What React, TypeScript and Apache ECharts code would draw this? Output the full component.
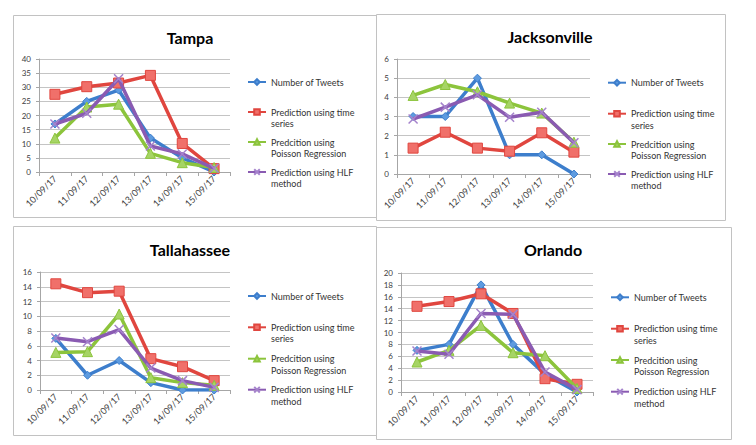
import React, { useEffect, useRef } from "react";
import * as echarts from "echarts";

const categories = ["10/09/17", "11/09/17", "12/09/17", "13/09/17", "14/09/17", "15/09/17"];
const seriesNames = [
  "Number of Tweets",
  "Prediction using time series",
  "Predcition using Poisson Regression",
  "Prediction using HLF method",
];
const legendLabels = [
  "Number of Tweets",
  "Prediction using time\nseries",
  "Predcition using\nPoisson Regression",
  "Prediction using HLF\nmethod",
];

const tampaTweets = [17, 25, 29, 12, 5, 0];
const tampaTimeSeries = [27.5, 30.2, 31.5, 34.2, 10.1, 1.2];
const tampaPoisson = [12, 23, 24, 6.6, 3.3, 1.6];
const tampaHLF = [17, 20.8, 33, 9.2, 6.4, 1.3];

const jaxTweets = [3, 3, 5, 1, 1, 0];
const jaxTimeSeries = [1.35, 2.18, 1.35, 1.19, 2.15, 1.14];
const jaxPoisson = [4.1, 4.67, 4.29, 3.7, 3.18, 1.66];
const jaxHLF = [2.87, 3.49, 4.13, 2.96, 3.22, 1.63];

const tlhTweets = [7, 2, 4, 1, 0, 0];
const tlhTimeSeries = [14.4, 13.2, 13.4, 4.25, 3.16, 1.27];
const tlhPoisson = [5.1, 5.2, 10.3, 1.67, 1.0, 0.63];
const tlhHLF = [7.05, 6.55, 8.2, 2.98, 1.27, 0.36];

const orlTweets = [7, 8, 18, 8, 3, 0];
const orlTimeSeries = [14.4, 15.2, 16.5, 13.2, 2.24, 1.29];
const orlPoisson = [5.04, 7, 11.2, 6.6, 6.1, 0.6];
const orlHLF = [6.9, 6.33, 13.2, 13.05, 3.36, 0.4];

const panels = [
  {
    title: "Tampa",
    data: [tampaTweets, tampaTimeSeries, tampaPoisson, tampaHLF],
    yMax: 40, yInterval: 5,
    grid: { left: 39, top: 59, width: 191, height: 113 },
    titlePos: [190, 37],
    legendX: 247, legendY: [82, 112, 142, 172],
    box: [13.5, 15.5, 363, 202],
  },
  {
    title: "Jacksonville",
    data: [jaxTweets, jaxTimeSeries, jaxPoisson, jaxHLF],
    yMax: 6, yInterval: 1,
    grid: { left: 397, top: 59, width: 193, height: 115 },
    titlePos: [550, 36],
    legendX: 607, legendY: [82.7, 113.7, 144, 174],
    box: [376.5, 14.5, 349, 206],
  },
  {
    title: "Tallahassee",
    data: [tlhTweets, tlhTimeSeries, tlhPoisson, tlhHLF],
    yMax: 16, yInterval: 2,
    grid: { left: 40, top: 272, width: 190, height: 118 },
    titlePos: [190, 249],
    legendX: 247, legendY: [296, 327.3, 358.7, 389.7],
    box: [13.5, 226.5, 363, 209],
  },
  {
    title: "Orlando",
    data: [orlTweets, orlTimeSeries, orlPoisson, orlHLF],
    yMax: 20, yInterval: 2,
    grid: { left: 401, top: 273, width: 192, height: 119 },
    titlePos: [553, 249],
    legendX: 610, legendY: [297.3, 328.7, 360, 391.7],
    box: [376.5, 227.5, 355, 212],
  },
];

const lineColors = ["#3d7ecc", "#e0463f", "#8cc43c", "#8a5bb2"];
const fillColors = ["#5d9be0", "#f0706a", "#a6d465", "#a583cc"];
const symbols = ["diamond", "rect", "triangle", "path://M0,0L10,10M10,0L0,10"];
const symbolSizes = [8, 10, 10, 9];

const FONT = "Lato";
const LH = 11.5;

export default function App() {
  const ref = useRef<HTMLDivElement>(null);
  useEffect(() => {
    if (!ref.current) return;
    const chart = echarts.init(ref.current, undefined, { renderer: "svg" });
    const grids: any[] = [];
    const xAxes: any[] = [];
    const yAxes: any[] = [];
    const series: any[] = [];
    const legends: any[] = [];
    const graphics: any[] = [];

    panels.forEach((p, pi) => {
      grids.push({ ...p.grid });
      xAxes.push({
        type: "category",
        gridIndex: pi,
        data: categories,
        boundaryGap: true,
        axisLine: { lineStyle: { color: "#a6a6a6", width: 1 } },
        axisTick: { show: true, length: 4, lineStyle: { color: "#a6a6a6" } },
        axisLabel: { rotate: 45, interval: 0, margin: 5, fontSize: 9, color: "#404040", fontFamily: FONT },
        splitLine: { show: false },
      });
      yAxes.push({
        type: "value",
        gridIndex: pi,
        min: 0,
        max: p.yMax,
        interval: p.yInterval,
        axisLine: { show: true, lineStyle: { color: "#a6a6a6", width: 1 } },
        axisTick: { show: true, length: 3, lineStyle: { color: "#a6a6a6" } },
        axisLabel: { margin: 8, fontSize: 8, color: "#404040", fontFamily: FONT },
        splitLine: { show: true, lineStyle: { color: "#c4c4c4", width: 1 } },
      });
      p.data.forEach((vals, si) => {
        const isCross = si === 3;
        series.push({
          type: "line",
          name: seriesNames[si],
          xAxisIndex: pi,
          yAxisIndex: pi,
          data: vals,
          symbol: symbols[si],
          symbolSize: symbolSizes[si],
          showAllSymbol: true,
          lineStyle: { color: lineColors[si], width: 3.5 },
          itemStyle: isCross
            ? { color: fillColors[si], borderColor: fillColors[si], borderWidth: 1.5 }
            : { color: fillColors[si], borderColor: lineColors[si], borderWidth: 1 },
          emphasis: { disabled: true },
          z: 2 + si,
        });
      });
      legendLabels.forEach((lab, si) => {
        const multi = lab.includes("\n");
        const cy = p.legendY[si];
        legends.push({
          show: true,
          orient: "vertical",
          left: p.legendX,
          top: multi ? cy - 1.5 * LH : cy - LH / 2,
          padding: 0,
          itemWidth: 18,
          itemHeight: 7,
          selectedMode: false,
          data: [seriesNames[si]],
          formatter: () => (multi ? "\n" + lab : lab),
          textStyle: { fontSize: 9, lineHeight: LH, color: "#333333", fontFamily: FONT },
        });
      });
      graphics.push({
        type: "rect",
        shape: { x: p.box[0], y: p.box[1], width: p.box[2], height: p.box[3] },
        style: { fill: "transparent", stroke: "#c2c2c2", lineWidth: 1 },
        z: 0,
        silent: true,
      });
      graphics.push({
        type: "text",
        x: p.titlePos[0],
        y: p.titlePos[1],
        style: {
          text: p.title,
          fontSize: 16,
          fontWeight: "bold",
          fontFamily: FONT,
          fill: "#000000",
          align: "center",
          verticalAlign: "middle",
        },
        silent: true,
      });
    });

    chart.setOption({
      animation: false,
      backgroundColor: "#ffffff",
      grid: grids,
      xAxis: xAxes,
      yAxis: yAxes,
      series,
      legend: legends,
      graphic: graphics,
    });
    return () => chart.dispose();
  }, []);
  return (
    <div
      ref={ref}
      style={{ position: "fixed", left: 0, top: 0, width: 756, height: 445, background: "#fff" }}
    />
  );
}
